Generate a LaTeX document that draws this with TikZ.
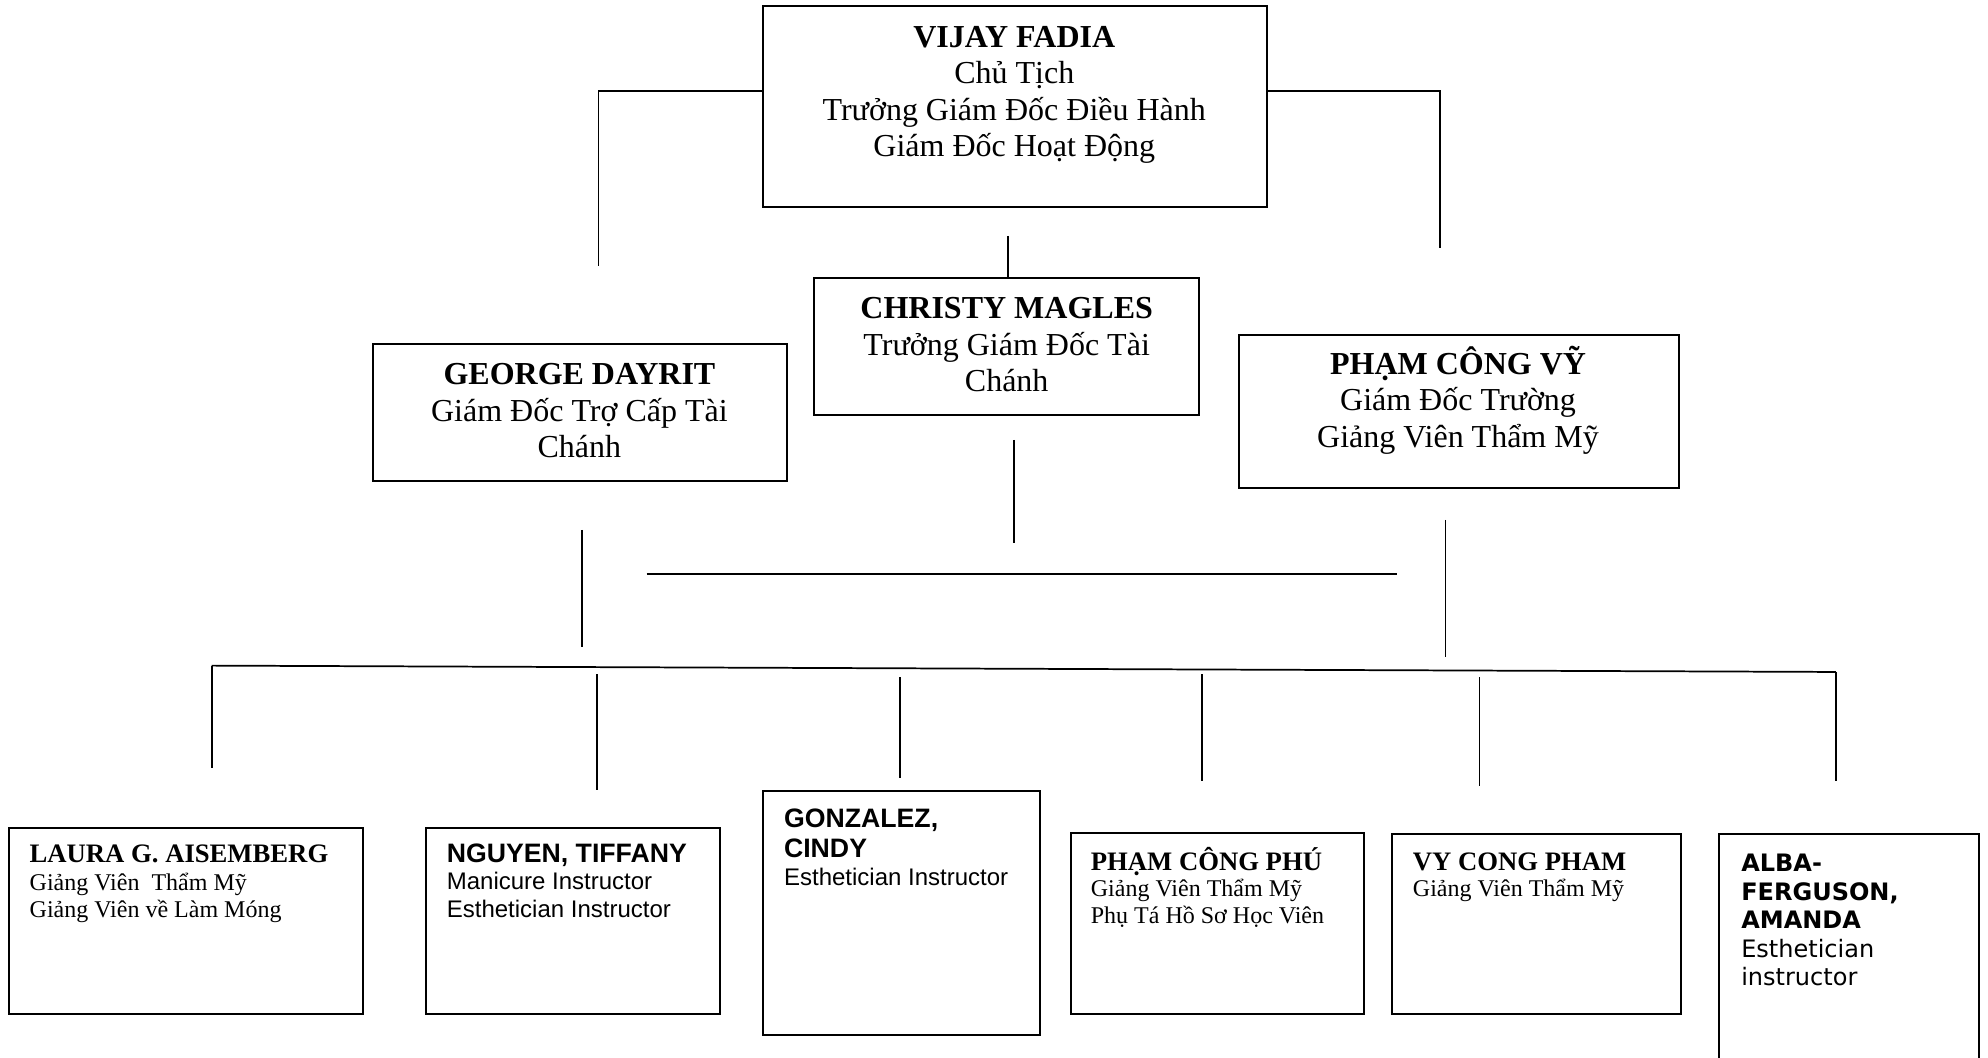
\documentclass[tikz,border=0pt]{standalone}
\usepackage{fontspec}
\setmainfont{Liberation Serif}
\newfontfamily\arialfont{Liberation Sans}
\newfontfamily\verdfont{DejaVu Sans}
\newcommand\fs{\rule{0pt}{12pt}}
\newcommand\bx[5]{\node[box, minimum width=#4*0.4754pt, minimum height=#5*0.4754pt] (#1) at (#2,#3) {};}
\begin{document}
\begin{tikzpicture}[x=0.4754pt,y=-0.4754pt,
  box/.style={draw, line width=0.75pt, inner sep=0pt, outer sep=0pt, anchor=north west},
  conn/.style={line width=0.6pt},
  thickconn/.style={line width=0.8pt},
  ttl/.style={inner sep=0pt, anchor=north, align=center, font=\fontsize{12}{13.6}\selectfont},
  sub/.style={inner sep=0pt, anchor=north west, align=left},
]
\useasboundingbox (0,0) rectangle (1568,834);
\clip (0,0) rectangle (1568,834);

% boxes
\bx{vijay}{602}{5}{397}{158}
\bx{christy}{642}{219}{304}{108}
\bx{george}{294}{271}{327}{108}
\bx{phamvy}{977}{264}{347}{121}
\bx{laura}{7}{653}{279}{147}
\bx{nguyen}{336}{653}{232}{147}
\bx{gonz}{602}{624}{218}{192}
\bx{phu}{845}{657}{231}{143}
\bx{vy}{1098}{658}{228}{142}
\bx{alba}{1356}{658}{205}{230}

% texts
\node[ttl] (vijayT) at (800,11.8) {\fs\textbf{VIJAY FADIA}\\Chủ Tịch\\Trưởng Giám Đốc Điều Hành\\Giám Đốc Hoạt Động};
\node[ttl] (christyT) at (794,225.8) {\fs\textbf{CHRISTY MAGLES}\\Trưởng Giám Đốc Tài\\Chánh};
\node[ttl] (georgeT) at (457,277.8) {\fs\textbf{GEORGE DAYRIT}\\Giám Đốc Trợ Cấp Tài\\Chánh};
\node[ttl] (phamvyT) at (1150,269.8) {\fs\textbf{PHẠM CÔNG VỸ}\\Giám Đốc Trường\\Giảng Viên Thẩm Mỹ};

\node[sub, font=\fontsize{9}{10}\selectfont] (lauraT) at (23,654.8)
  {\fs{\fontsize{10}{10}\selectfont\bfseries LAURA G. AISEMBERG}\\[0.5pt]Giảng Viên\ \ Thẩm Mỹ\\Giảng Viên về Làm Móng};
\node[sub, font=\arialfont\fontsize{9}{10.2}\selectfont] (nguyenT) at (352,654.8)
  {\fs{\fontsize{10}{10}\selectfont\bfseries NGUYEN, TIFFANY}\\Manicure Instructor\\Esthetician Instructor};
\node[sub, font=\arialfont\fontsize{9}{10.5}\selectfont] (gonzT) at (618,626.8)
  {\fs{\fontsize{10}{10}\selectfont\bfseries GONZALEZ,}\\[0.9pt]{\fontsize{10}{10}\selectfont\bfseries CINDY}\\Esthetician Instructor};
\node[sub, font=\fontsize{9}{10}\selectfont] (phuT) at (860,660.8)
  {\fs{\fontsize{10}{10}\selectfont\bfseries PHẠM CÔNG PHÚ}\\Giảng Viên Thẩm Mỹ\\Phụ Tá Hồ Sơ Học Viên};
\node[sub, font=\fontsize{9}{10}\selectfont] (vyT) at (1114,660.8)
  {\fs{\fontsize{10}{10}\selectfont\bfseries VY CONG PHAM}\\Giảng Viên Thẩm Mỹ};
\node[sub, font=\verdfont\fontsize{9}{10.7}\selectfont] (albaT) at (1373,661.8)
  {\fs\textbf{ALBA-}\\\textbf{FERGUSON,}\\\textbf{AMANDA}\\Esthetician\\instructor};

% connectors
\coordinate (a1) at (472,72); \coordinate (a2) at (472,210);
\draw[conn] (vijay.west |- a1) -- (a1) -- (a2);
\coordinate (b1) at (1136,72); \coordinate (b2) at (1136,196);
\draw[conn] (vijay.east |- b1) -- (b1) -- (b2);
\coordinate (c1) at (795,186);
\draw[conn] (c1) -- (c1 |- christy.north);

\coordinate (d1) at (459,418); \coordinate (d2) at (459,510);
\draw[conn] (d1) -- (d2);
\coordinate (e1) at (800,347); \coordinate (e2) at (800,428);
\draw[conn] (e1) -- (e2);
\coordinate (f1) at (1140,410); \coordinate (f2) at (1140,518);
\draw[conn] (f1) -- (f2);
\coordinate (g1) at (510,453); \coordinate (g2) at (1102,453);
\draw[thickconn] (g1) -- (g2);

\coordinate (h1) at (167,525); \coordinate (h2) at (1448,530);
\draw[conn, line width=0.65pt] (h1) -- (h2);
\coordinate (k1) at (167,606);
\draw[conn] (h1) -- (k1);
\coordinate (k2a) at (471,532); \coordinate (k2b) at (471,623);
\draw[conn] (k2a) -- (k2b);
\coordinate (k3a) at (710,534); \coordinate (k3b) at (710,614);
\draw[conn] (k3a) -- (k3b);
\coordinate (k4a) at (948,532); \coordinate (k4b) at (948,616);
\draw[conn] (k4a) -- (k4b);
\coordinate (k5a) at (1167,534); \coordinate (k5b) at (1167,620);
\draw[conn] (k5a) -- (k5b);
\coordinate (k6) at (1448,616);
\draw[conn] (h2) -- (k6);
\end{tikzpicture}
\end{document}
